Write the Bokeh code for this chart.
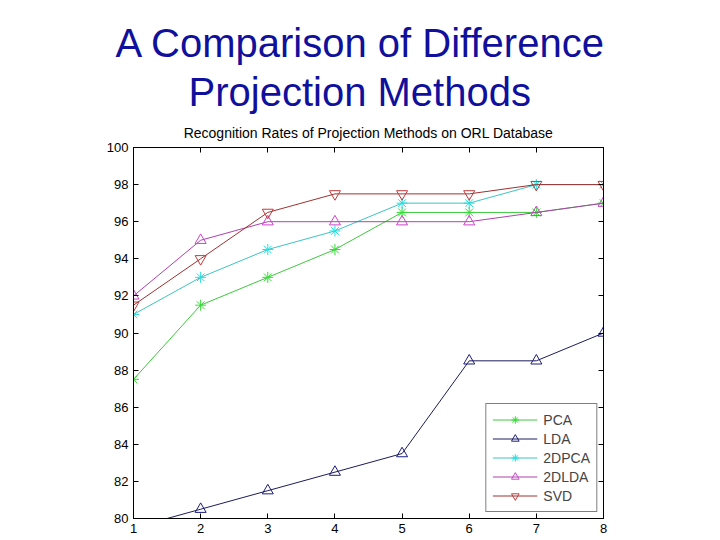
from bokeh.plotting import figure
from bokeh.models import Range1d, LinearAxis, Title, Legend, LegendItem, FixedTicker
from bokeh.embed import file_html
from bokeh.resources import INLINE

x = [1, 2, 3, 4, 5, 6, 7, 8]
pca = [87.5, 91.5, 93.0, 94.5, 96.5, 96.5, 96.5, 97.0]
lda = [79.5, 80.5, 81.5, 82.5, 83.5, 88.5, 88.5, 90.0]
pca2d = [91.0, 93.0, 94.5, 95.5, 97.0, 97.0, 98.0, 98.0]
lda2d = [92.0, 95.0, 96.0, 96.0, 96.0, 96.0, 96.5, 97.0]
svd = [91.5, 94.0, 96.5, 97.5, 97.5, 97.5, 98.0, 98.0]
names = ["PCA", "LDA", "2DPCA", "2DLDA", "SVD"]
y_ticks = [80, 82, 84, 86, 88, 90, 92, 94, 96, 98, 100]

FONT = "Liberation Sans"
W, H = 716, 538

p = figure(width=W, height=H, output_backend="svg", toolbar_location=None,
           x_range=Range1d(1, 8), y_range=Range1d(80, 100),
           min_border_left=133, min_border_right=W - 603, min_border_bottom=H - 518,
           min_border_top=147, background_fill_color="white", border_fill_color="white")
p.xgrid.visible = False
p.ygrid.visible = False
p.outline_line_color = "black"
p.outline_line_width = 1

for ax in [p.xaxis[0], p.yaxis[0]]:
    ax.major_tick_in = 5
    ax.major_tick_out = 0
    ax.minor_tick_in = 0
    ax.minor_tick_out = 0
    ax.major_label_text_font = FONT
    ax.major_label_text_font_size = "13px"
    ax.major_label_text_color = "black"
    ax.axis_line_color = "black"
    ax.major_tick_line_color = "black"
    ax.major_label_standoff = 5
p.xaxis.ticker = FixedTicker(ticks=x)
p.yaxis.ticker = FixedTicker(ticks=y_ticks)

right = LinearAxis(ticker=FixedTicker(ticks=y_ticks), major_tick_in=5, major_tick_out=0,
                   minor_tick_in=0, minor_tick_out=0,
                   major_label_overrides={t: "" for t in y_ticks},
                   major_label_standoff=0, axis_line_color="black")
top = LinearAxis(ticker=FixedTicker(ticks=x), major_tick_in=5, major_tick_out=0,
                 minor_tick_in=0, minor_tick_out=0,
                 major_label_overrides={t: "" for t in x},
                 major_label_standoff=0, axis_line_color="black")
p.add_layout(right, "right")
p.add_layout(top, "above")

series = [
    (pca, "#3ec83e", "asterisk", "#33dd33"),
    (lda, "#1c1c5c", "triangle", "#1c1c7c"),
    (pca2d, "#3cc4c4", "asterisk", "#22e0e0"),
    (lda2d, "#b040b0", "triangle", "#cc44cc"),
    (svd, "#a03030", "inverted_triangle", "#c03c3c"),
]
items = []
for (vals, lc, mk, mc), nm in zip(series, names):
    r1 = p.line(x, vals, line_color=lc, line_width=1)
    r2 = p.scatter(x, vals, marker=mk, size=11, line_color=mc, fill_color=None, line_width=1)
    items.append(LegendItem(label=nm, renderers=[r1, r2]))

leg = Legend(items=items, location="bottom_right", margin=6, padding=6, spacing=0,
             glyph_width=45, glyph_height=19, label_height=19, label_standoff=6,
             label_text_font=FONT, label_text_font_size="14px",
             border_line_color="black", border_line_width=1,
             background_fill_color="white", background_fill_alpha=1)
p.add_layout(leg, "center")

sub = Title(text="Recognition Rates of Projection Methods on ORL Database", align="center",
            text_font=FONT, text_font_size="14px", text_font_style="normal",
            text_color="black", standoff=13)
p.add_layout(sub, "above")
for line, so, off in [("Projection Methods", 6, 55), ("A Comparison of Difference", 0, -18)]:
    t = Title(text=line, align="left", text_font=FONT, text_font_size="40px",
              text_font_style="normal", text_color="#10109c", standoff=so, offset=off)
    p.add_layout(t, "above")
p.title.visible = False

open("out.html", "w").write(file_html(p, INLINE))
